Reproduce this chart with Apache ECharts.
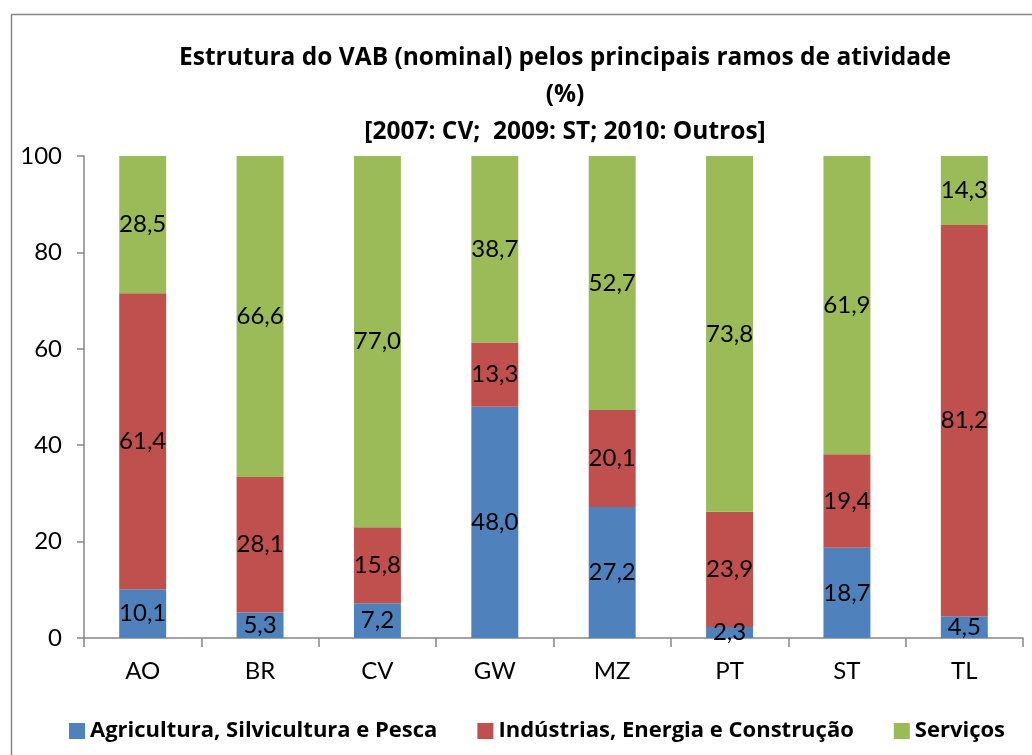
<!DOCTYPE html>
<html>
<head>
<meta charset="utf-8">
<script src="https://cdn.jsdelivr.net/npm/echarts@6/dist/echarts.min.js"></script>
<style>
  html, body { margin: 0; padding: 0; background: #fff; }
  #chart { width: 1032px; height: 755px; }
</style>
</head>
<body>
<div id="chart"></div>
<script>
// Estrutura do VAB (nominal) pelos principais ramos de atividade (%)
const categories = ["AO", "BR", "CV", "GW", "MZ", "PT", "ST", "TL"];
const agricultura = [10.1, 5.3, 7.2, 48.0, 27.2, 2.3, 18.7, 4.5];
const industrias = [61.4, 28.1, 15.8, 13.3, 20.1, 23.9, 19.4, 81.2];
const servicos = [28.5, 66.6, 77.0, 38.7, 52.7, 73.8, 61.9, 14.3];
const yTicks = [0, 20, 40, 60, 80, 100];

const FONT = "Lato, 'Open Sans', sans-serif";
const FONT_BOLD = "'Open Sans', Lato, sans-serif";
const AXIS_GRAY = "#868686";

function fmt(v) {
  return v.toFixed(1).replace(".", ",");
}

function makeSeries(name, data, color) {
  return {
    name: name,
    type: "bar",
    stack: "vab",
    barWidth: "40%",
    data: data,
    itemStyle: { color: color },
    label: {
      show: true,
      position: "inside",
      color: "#000",
      fontFamily: FONT,
      fontSize: 24,
      formatter: function (p) { return fmt(p.value); },
    },
  };
}

const chart = echarts.init(document.getElementById("chart"));
chart.setOption({
  animation: false,
  title: {
    text: "Estrutura do VAB (nominal) pelos principais ramos de atividade\n(%)\n[2007: CV;  2009: ST; 2010: Outros]",
    left: 560,
    top: 35,
    textAlign: "center",
    textStyle: {
      fontFamily: FONT_BOLD,
      fontWeight: "bold",
      fontSize: 24.5,
      lineHeight: 37,
      color: "#000",
    },
  },
  graphic: [{
    type: "rect",
    shape: { x: 11.5, y: 14.5, width: 1060, height: 800 },
    style: { fill: null, stroke: AXIS_GRAY, lineWidth: 1.5 },
    silent: true,
  }],
  legend: {
    bottom: 8,
    left: 64,
    itemWidth: 16,
    itemHeight: 16,
    itemGap: 40,
    icon: "rect",
    textStyle: { fontFamily: FONT_BOLD, fontWeight: "bold", fontSize: 22, color: "#000" },
  },
  grid: { left: 84, right: 9, top: 156, bottom: 117 },
  xAxis: {
    type: "category",
    data: categories,
    axisLine: { lineStyle: { color: AXIS_GRAY, width: 1.5 } },
    axisTick: { show: true, length: 9, lineStyle: { color: AXIS_GRAY, width: 1.5 } },
    axisLabel: { fontFamily: FONT, fontSize: 24, color: "#000", margin: 21 },
  },
  yAxis: {
    type: "value",
    min: yTicks[0],
    max: yTicks[yTicks.length - 1],
    interval: 20,
    axisLine: { show: true, lineStyle: { color: AXIS_GRAY, width: 1.5 } },
    axisTick: { show: true, length: 7, lineStyle: { color: AXIS_GRAY, width: 1.5 } },
    axisLabel: { fontFamily: FONT, fontSize: 24, color: "#000", margin: 22 },
    splitLine: { show: false },
  },
  series: [
    makeSeries("Agricultura, Silvicultura e Pesca", agricultura, "#4F81BD"),
    makeSeries("Indústrias, Energia e Construção", industrias, "#C0504D"),
    makeSeries("Serviços", servicos, "#9BBB59"),
  ],
});
</script>
</body>
</html>
